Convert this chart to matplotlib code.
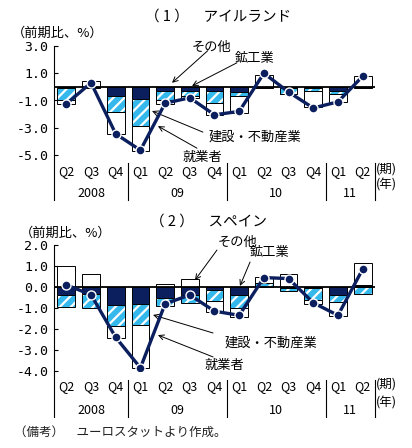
import matplotlib
matplotlib.use("Agg")
import matplotlib.pyplot as plt
from matplotlib.transforms import blended_transform_factory
import numpy as np

plt.rcParams["font.family"] = ["Noto Sans CJK JP", "DejaVu Sans"]
plt.rcParams["axes.unicode_minus"] = False
plt.rcParams["hatch.linewidth"] = 1.6

# ---- Data (前期比, %)
quarters = ["Q2", "Q3", "Q4", "Q1", "Q2", "Q3", "Q4", "Q1", "Q2", "Q3", "Q4", "Q1", "Q2"]
years = ["2008", "09", "10", "11"]
year_spans = [(0, 2), (3, 6), (7, 10), (11, 12)]

# (1) アイルランド
ie_mining = [-0.1, -0.1, -0.65, -0.9, -0.3, -0.3, -0.3, -0.35, -0.05, -0.1, -0.1, -0.3, -0.1]
ie_constr = [-0.9, 0.0, -1.2, -2.0, -0.65, -0.35, -0.9, -0.35, 0.0, -0.4, -0.2, -0.25, 0.0]
ie_other = [-0.25, 0.4, -1.6, -1.8, -0.3, -0.15, -0.9, -1.2, 0.9, -0.05, -1.2, -0.55, 0.8]
ie_employ = [-1.25, 0.3, -3.45, -4.65, -1.2, -0.8, -2.05, -1.8, 1.0, -0.38, -1.55, -1.1, 0.78]

# (2) スペイン
es_mining = [-0.37, -0.32, -0.85, -0.8, -0.5, -0.4, -0.15, -0.38, 0.0, -0.05, -0.06, -0.4, 0.1]
es_constr = [-0.58, -0.68, -1.0, -1.0, -0.4, -0.35, -0.5, -0.64, 0.2, -0.15, -0.56, -0.3, -0.35]
es_other = [1.0, 0.6, -0.6, -2.05, 0.15, 0.4, -0.55, -0.4, 0.3, 0.6, -0.2, -0.68, 1.05]
es_employ = [0.1, -0.37, -2.4, -3.85, -0.8, -0.38, -1.15, -1.35, 0.45, 0.4, -0.75, -1.35, 0.85]

NAVY = "#0b1f5e"
CYAN = "#35b9ec"
BAR_W = 0.72


def draw_panel(ax, mining, constr, other, employ, ylim, yticks, rows):
    x = np.arange(len(quarters))
    pos = np.zeros(len(x))
    neg = np.zeros(len(x))
    for vals, kind in ((mining, "m"), (constr, "c"), (other, "o")):
        v = np.asarray(vals, dtype=float)
        bottom = np.where(v >= 0, pos, neg)
        if kind == "m":
            ax.bar(x, v, BAR_W, bottom=bottom, color=NAVY, edgecolor="black", lw=0.7, zorder=2)
        elif kind == "c":
            ax.bar(x, v, BAR_W, bottom=bottom, color=CYAN, lw=0, zorder=2)
            ax.bar(x, v, BAR_W, bottom=bottom, facecolor="none", edgecolor="white",
                   hatch="///", lw=0, zorder=2.1)
            ax.bar(x, v, BAR_W, bottom=bottom, facecolor="none", edgecolor="black",
                   lw=0.7, zorder=2.2)
        else:
            ax.bar(x, v, BAR_W, bottom=bottom, color="white", edgecolor="black", lw=0.7, zorder=2)
        pos = pos + np.where(v >= 0, v, 0)
        neg = neg + np.where(v < 0, v, 0)

    ax.axhline(0, color="black", lw=1.3, zorder=3)
    ax.plot(x, employ, color=NAVY, lw=2.4, marker="o", ms=6.5, mfc=NAVY,
            mec="white", mew=1.0, zorder=4)

    ax.set_xlim(-0.5, len(x) - 0.5)
    ax.set_ylim(*ylim)
    ax.set_yticks(yticks)
    ax.set_yticklabels([f"{t:.1f}" for t in yticks], fontsize=9.5,
                       family=["DejaVu Sans Mono"])
    ax.tick_params(axis="y", direction="in", length=3, width=0.8, pad=4)
    ax.set_xticks([])
    for s in ("top", "right", "bottom"):
        ax.spines[s].set_visible(False)
    ax.spines["left"].set_linewidth(0.8)

    q_y, yr_y, line_bot, div_top = rows
    tr = blended_transform_factory(ax.transData, ax.transAxes)
    # extended left axis and year dividers
    ax.plot([-0.5, -0.5], [0, line_bot], transform=tr, color="black", lw=0.8, clip_on=False)
    for (a, b) in year_spans:
        ax.plot([b + 0.5, b + 0.5], [div_top, line_bot], transform=tr,
                color="black", lw=0.8, clip_on=False)
    for i, q in enumerate(quarters):
        ax.text(i, q_y, q, transform=tr, ha="center", va="center", fontsize=9)
    for (a, b), yr in zip(year_spans, years):
        ax.text((a + b) / 2, yr_y, yr, transform=tr, ha="center", va="center", fontsize=9)
    ax.text(len(x) - 0.45, q_y + 0.02, "(期)", transform=tr, ha="left", va="center", fontsize=9)
    ax.text(len(x) - 0.45, q_y - 0.13, "(年)", transform=tr, ha="left", va="center", fontsize=9)


def arrow(ax, tail, tip):
    ax.annotate("", xy=tip, xytext=tail, annotation_clip=False,
                arrowprops=dict(arrowstyle="->", lw=0.7, color="black",
                                shrinkA=0, shrinkB=0, mutation_scale=9))


fig = plt.figure(figsize=(4.12, 4.48), dpi=100)
fig.patch.set_facecolor("white")

# ---- Panel 1: Ireland
ax1 = fig.add_axes([54 / 412, 1 - 155 / 448, 321 / 412, 109 / 448])
draw_panel(ax1, ie_mining, ie_constr, ie_other, ie_employ, (-5, 3),
           [3.0, 1.0, -1.0, -3.0, -5.0], (-0.147, -0.349, -0.413, -0.073))
fig.text(218 / 412, 1 - 17 / 448, "（ 1 ）　アイルランド", ha="center", va="center", fontsize=10.5)
fig.text(12 / 412, 1 - 33 / 448, "（前期比、%）", ha="left", va="center", fontsize=9.5)
ax1.text(5.9, 2.88, "その他", ha="center", va="center", fontsize=9.5)
arrow(ax1, (5.73, 2.66), (4.28, 0.3))
ax1.text(7.64, 2.07, "鉱工業", ha="center", va="center", fontsize=9.5)
arrow(ax1, (6.91, 1.77), (5.09, 0.07))
ax1.text(7.64, -3.69, "建設・不動産業", ha="center", va="center", fontsize=9.5)
arrow(ax1, (5.53, -3.32), (3.47, -1.77))
ax1.text(5.53, -5.17, "就業者", ha="center", va="center", fontsize=9.5)
arrow(ax1, (5.29, -4.5), (3.71, -2.88))

# ---- Panel 2: Spain
ax2 = fig.add_axes([54 / 412, 1 - 371 / 448, 321 / 412, 126 / 448])
draw_panel(ax2, es_mining, es_constr, es_other, es_employ, (-4, 2),
           [2.0, 1.0, 0.0, -1.0, -2.0, -3.0, -4.0], (-0.127, -0.31, -0.365, -0.071))
fig.text(208 / 412, 1 - 222 / 448, "（ 2 ）　スペイン", ha="center", va="center", fontsize=10.5)
fig.text(20 / 412, 1 - 233 / 448, "（前期比、%）", ha="left", va="center", fontsize=9.5)
ax2.text(6.95, 2.14, "その他", ha="center", va="center", fontsize=9.5)
arrow(ax2, (6.1, 1.76), (5.21, 0.33))
ax2.text(8.24, 1.62, "鉱工業", ha="center", va="center", fontsize=9.5)
arrow(ax2, (7.44, 1.19), (7.03, 0.05))
ax2.text(8.29, -2.67, "建設・不動産業", ha="center", va="center", fontsize=9.5)
arrow(ax2, (5.94, -2.19), (3.51, -1.33))
ax2.text(6.42, -3.71, "就業者", ha="center", va="center", fontsize=9.5)
arrow(ax2, (5.94, -3.33), (3.71, -2.29))

fig.text(14 / 412, 1 - 432 / 448, "（備考）　ユーロスタットより作成。", ha="left", va="center",
         fontsize=9, color="#222222")

fig.savefig("out.png", dpi=100, facecolor="white")
